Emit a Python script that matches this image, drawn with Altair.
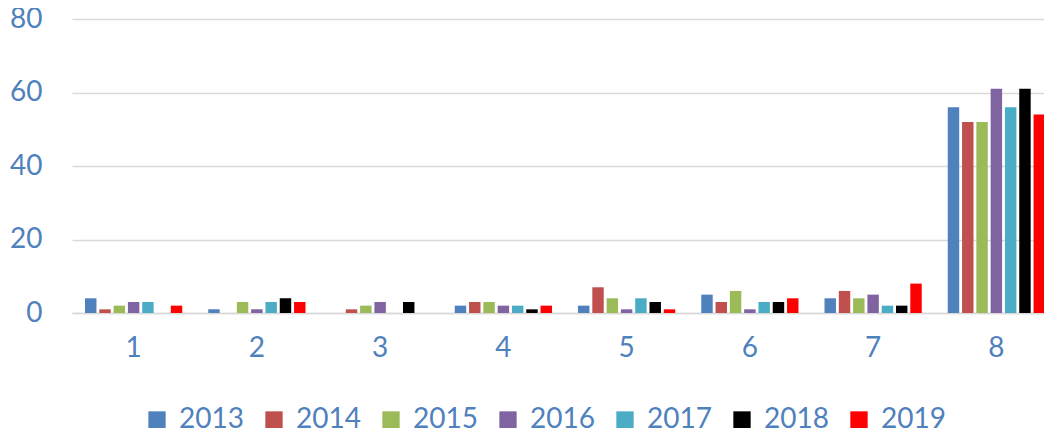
import altair as alt
import pandas as pd

groups = ["1", "2", "3", "4", "5", "6", "7", "8"]
years = ["2013", "2014", "2015", "2016", "2017", "2018", "2019"]
colors = ["#4f81bd", "#c0504d", "#9bbb59", "#8064a2", "#4bacc6", "#000000", "#ff0000"]

v2013 = [4, 1, 0, 2, 2, 5, 4, 56]
v2014 = [1, 0, 1, 3, 7, 3, 6, 52]
v2015 = [2, 3, 2, 3, 4, 6, 4, 52]
v2016 = [3, 1, 3, 2, 1, 1, 5, 61]
v2017 = [3, 3, 0, 2, 4, 3, 2, 56]
v2018 = [0, 4, 3, 1, 3, 3, 2, 61]
v2019 = [2, 3, 0, 2, 1, 4, 8, 54]

series = [v2013, v2014, v2015, v2016, v2017, v2018, v2019]
rows = []
for yr, vals in zip(years, series):
    for g, v in zip(groups, vals):
        rows.append({"group": g, "year": yr, "value": v})
df = pd.DataFrame(rows)

txt = "#4f81bd"

chart = alt.Chart(df).mark_bar().encode(
    x=alt.X("group:N", sort=groups, title=None,
            scale=alt.Scale(range=[0, 986], paddingInner=0, paddingOuter=0),
            axis=alt.Axis(labelAngle=0, labelFontSize=28, labelColor=txt, labelPadding=21,
                          ticks=False, domain=True, domainColor="#d9d9d9", domainWidth=1.5,
                          grid=False)),
    xOffset=alt.XOffset("year:N", sort=years,
                        scale=alt.Scale(paddingInner=0.2, paddingOuter=0.91)),
    y=alt.Y("value:Q", title=None,
            scale=alt.Scale(domain=[0, 80], nice=False),
            axis=alt.Axis(values=[0, 20, 40, 60, 80], labelFontSize=28, labelColor=txt,
                          labelPadding=30, ticks=False, domain=False,
                          gridColor="#d9d9d9", gridWidth=1.5)),
    color=alt.Color("year:N", sort=years, scale=alt.Scale(domain=years, range=colors),
                    legend=alt.Legend(title=None, orient="none", direction="horizontal",
                                      legendX=71, legendY=387,
                                      symbolType="square", symbolSize=300,
                                      symbolStrokeWidth=0, symbolOpacity=1,
                                      labelFontSize=28, labelColor=txt, labelOffset=8,
                                      columnPadding=16)),
).properties(
    width=972,
    height=294,
    autosize="none",
    padding={"left": 64, "top": 11, "right": 0, "bottom": 115},
).configure(font="Lato").configure_view(stroke=None)

chart.save("out.html", embed_options={"renderer": "svg", "actions": False})
